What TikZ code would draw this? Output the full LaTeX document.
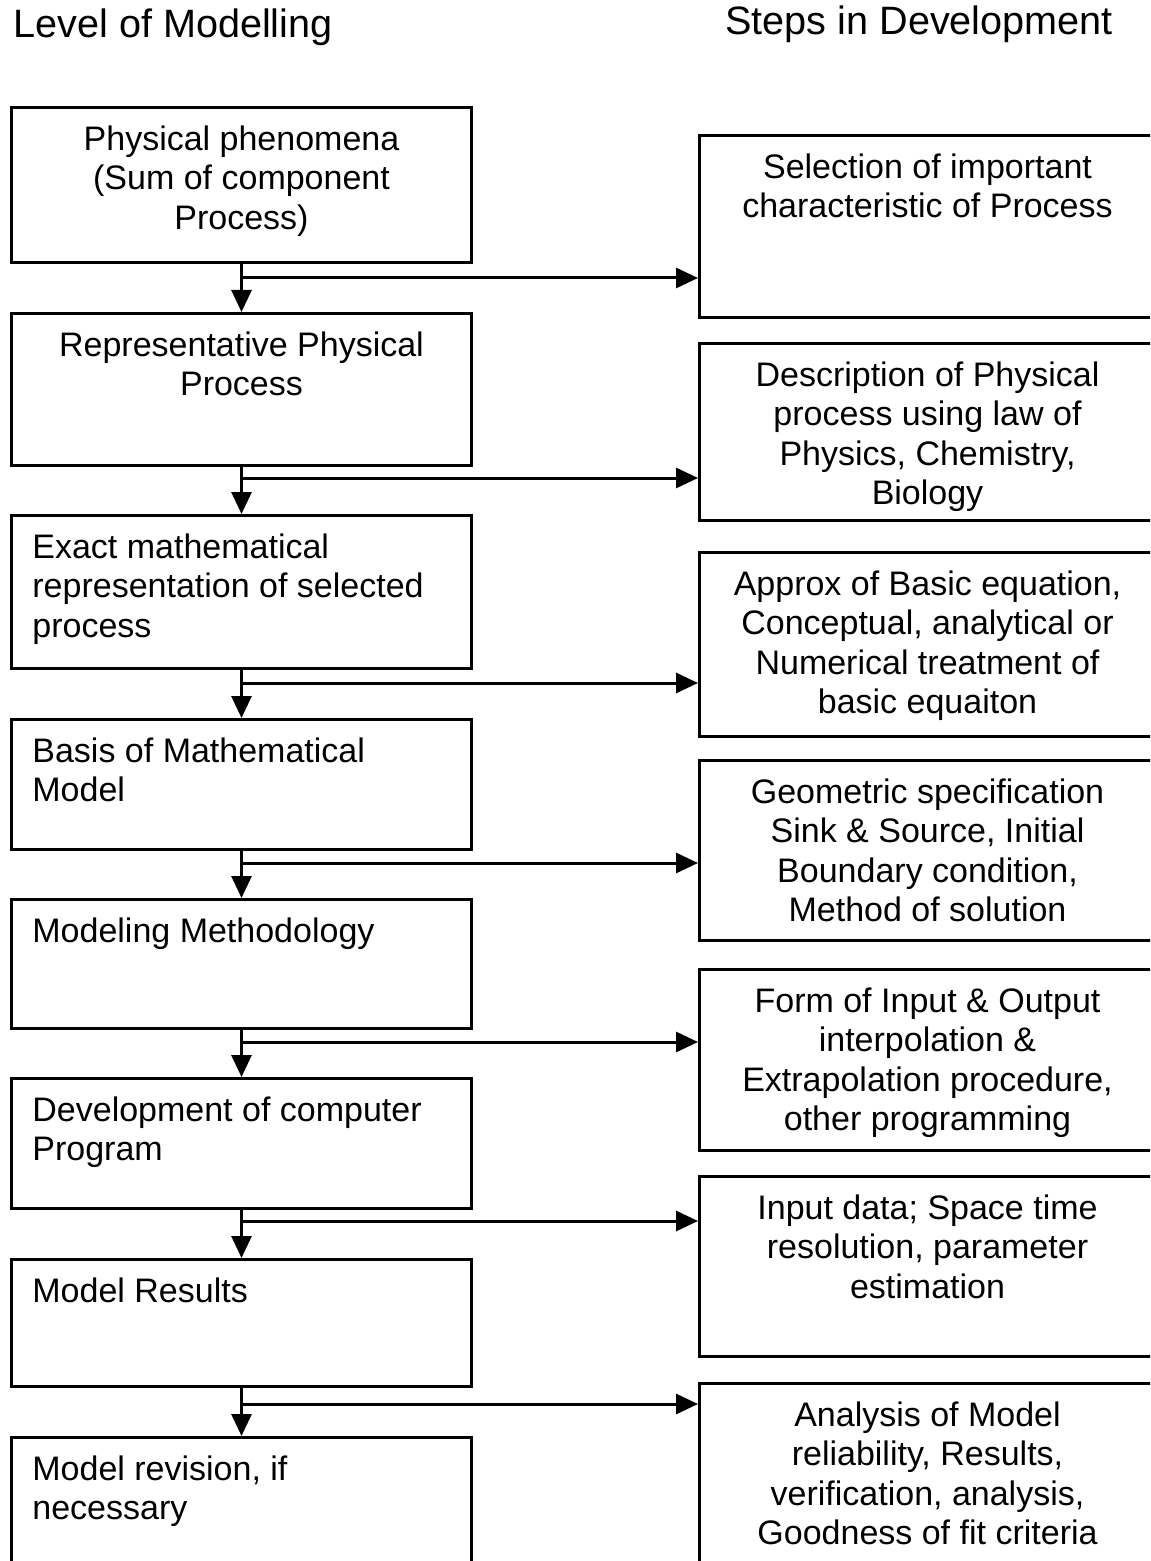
\documentclass[tikz,border=0pt]{standalone}
\usepackage{fontspec}
\setmainfont{Liberation Sans}
\usetikzlibrary{arrows.meta, positioning, calc}

\begin{document}
\begin{tikzpicture}[
    x=0.5pt, y=-0.5pt,
    font=\fontsize{17pt}{19.75pt}\selectfont,
    heading/.style={anchor=west, inner sep=0pt, font=\fontsize{19.8pt}{23pt}\selectfont},
    lvlbox/.style={draw, line width=1.5pt, anchor=north west, inner sep=0pt,
                   minimum width=230pt, minimum height=#1},
    stepbox/.style={lvlbox=#1},
    midtext/.style={anchor=north, inner sep=0pt, align=center, yshift=-9.5pt},
    lefttext/.style={anchor=north west, inner sep=0pt, align=left, xshift=11pt, yshift=-9.5pt},
    flow/.style={draw, line width=1.5pt, -{Triangle[length=11pt, width=10pt]}}
]
    \useasboundingbox (0,0) rectangle (1150,1561);
    \clip (0,0) rectangle (1150,1561);

    % Column headings
    \node[heading] (hleft) at (13,27) {Level of Modelling};
    \node[heading] (hright) at (725,24) {Steps in Development};

    % Level of modelling (left column)
    \node[lvlbox=77.5pt] (L1) at (10,106) {};
    \node[lvlbox=76pt]   (L2) at (10,312) {};
    \node[lvlbox=76.5pt] (L3) at (10,514) {};
    \node[lvlbox=65pt]   (L4) at (10,718) {};
    \node[lvlbox=64.5pt] (L5) at (10,898) {};
    \node[lvlbox=65pt]   (L6) at (10,1077) {};
    \node[lvlbox=63.5pt] (L7) at (10,1258) {};
    \node[lvlbox=70pt]   (L8) at (10,1436) {};

    \node[midtext]  (t1) at (L1.north) {Physical phenomena\\(Sum of component\\Process)};
    \node[midtext]  (t2) at (L2.north) {Representative Physical\\Process};
    \node[lefttext] (t3) at (L3.north west) {Exact mathematical\\representation of selected\\process};
    \node[lefttext] (t4) at (L4.north west) {Basis of Mathematical\\Model};
    \node[lefttext] (t5) at (L5.north west) {Modeling Methodology};
    \node[lefttext] (t6) at (L6.north west) {Development of computer\\Program};
    \node[lefttext] (t7) at (L7.north west) {Model Results};
    \node[lefttext] (t8) at (L8.north west) {Model revision, if\\necessary};

    % Steps in development (right column)
    \node[stepbox=91pt]   (R1) at (698,134) {};
    \node[stepbox=88.5pt] (R2) at (698,342) {};
    \node[stepbox=92pt]   (R3) at (698,551) {};
    \node[stepbox=90pt]   (R4) at (698,759) {};
    \node[stepbox=90.5pt] (R5) at (698,968) {};
    \node[stepbox=90pt]   (R6) at (698,1175) {};
    \node[stepbox=95pt]   (R7) at (698,1382) {};

    \node[midtext, xshift=-1pt] (s1) at (R1.north) {Selection of important\\characteristic of Process};
    \node[midtext, xshift=-1pt] (s2) at (R2.north) {Description of Physical\\process using law of\\Physics, Chemistry,\\Biology};
    \node[midtext, xshift=-1pt] (s3) at (R3.north) {Approx of Basic equation,\\Conceptual, analytical or\\Numerical treatment of\\basic equaiton};
    \node[midtext, xshift=-1pt] (s4) at (R4.north) {Geometric specification\\Sink \& Source, Initial\\Boundary condition,\\Method of solution};
    \node[midtext, xshift=-1pt] (s5) at (R5.north) {Form of Input \& Output\\interpolation \&\\Extrapolation procedure,\\other programming};
    \node[midtext, xshift=-1pt] (s6) at (R6.north) {Input data; Space time\\resolution, parameter\\estimation};
    \node[midtext, xshift=-1pt] (s7) at (R7.north) {Analysis of Model\\reliability, Results,\\verification, analysis,\\Goodness of fit criteria};

    % Connectors
    \foreach \i/\j/\y in {1/2/278, 2/3/478, 3/4/683, 4/5/863, 5/6/1042, 6/7/1221, 7/8/1404} {
        \draw[flow] (L\i.south) -- (L\j.north);
        \coordinate (b\i) at (240,\y);
        \draw[flow] (b\i) -- (R\i.west |- b\i);
    }
\end{tikzpicture}
\end{document}
